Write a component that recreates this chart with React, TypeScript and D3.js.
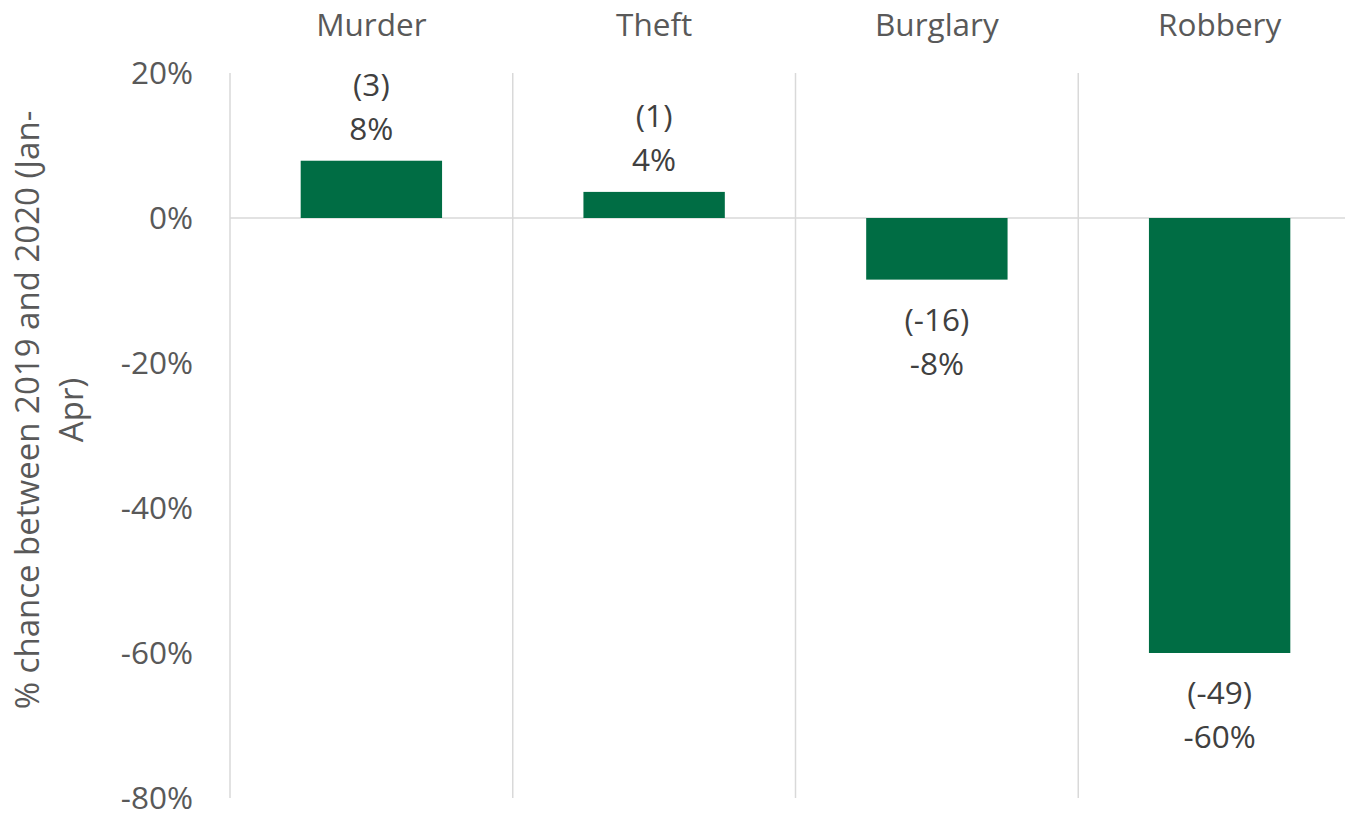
import React from "react";
import * as d3 from "d3";

const categories = ["Murder", "Theft", "Burglary", "Robbery"];
const pctChange = [7.9, 3.6, -8.5, -60];
const countLabels = ["(3)", "(1)", "(-16)", "(-49)"];
const pctLabels = ["8%", "4%", "-8%", "-60%"];
const yTicks = [20, 0, -20, -40, -60, -80];

const W = 1345;
const H = 813;
const margin = { left: 230, top: 73, bottom: 15 };
const plotRight = 1361;

export default function App() {
  const x = d3.scaleBand<string>().domain(categories).range([margin.left, plotRight]).paddingInner(0).paddingOuter(0);
  const y = d3.scaleLinear().domain([-80, 20]).range([H - margin.bottom, margin.top]);
  const bw = x.bandwidth() * 0.5;
  const font = "'Open Sans', sans-serif";
  const fs = 31.5;
  return (
    <svg width={W} height={H} style={{ position: "absolute", left: 0, top: 0, background: "#fff" }} fontFamily={font}>
      <rect x={0} y={0} width={W} height={H} fill="#fff" />
      {/* vertical gridlines */}
      {categories.map((c) => (
        <line key={c} x1={x(c)!} x2={x(c)!} y1={y(20)} y2={y(-80)} stroke="#d9d9d9" strokeWidth={1.5} />
      ))}
      <line x1={margin.left} x2={plotRight} y1={y(0)} y2={y(0)} stroke="#d9d9d9" strokeWidth={1.5} />
      {/* bars */}
      {categories.map((c, i) => {
        const v = pctChange[i];
        const cx = x(c)! + x.bandwidth() / 2;
        return (
          <rect key={c} x={cx - bw / 2} y={y(Math.max(0, v))} width={bw} height={Math.abs(y(v) - y(0))} fill="#006d44" />
        );
      })}
      {/* data labels */}
      {categories.map((c, i) => {
        const v = pctChange[i];
        const cx = x(c)! + x.bandwidth() / 2;
        const l1 = v >= 0 ? y(v) - 76 : y(v) + 40;
        return (
          <g key={c} fill="#404040" fontSize={fs} textAnchor="middle">
            <text x={cx} y={l1} dy="0.35em">{countLabels[i]}</text>
            <text x={cx} y={l1 + 44} dy="0.35em">{pctLabels[i]}</text>
          </g>
        );
      })}
      {/* category labels */}
      {categories.map((c) => (
        <text key={c} x={x(c)! + x.bandwidth() / 2} y={25} dy="0.35em" textAnchor="middle" fontSize={fs} fill="#595959">
          {c}
        </text>
      ))}
      {/* y ticks */}
      {yTicks.map((t) => (
        <text key={t} x={193} y={y(t)} dy="0.35em" textAnchor="end" fontSize={fs} fill="#595959">
          {`${t}%`}
        </text>
      ))}
      {/* y axis title */}
      <g transform={`translate(0, 410) rotate(-90)`} fill="#595959" fontSize={33} textAnchor="middle">
        <text x={0} y={27} dy="0.35em">% chance between 2019 and 2020 (Jan-</text>
        <text x={0} y={71} dy="0.35em">Apr)</text>
      </g>
    </svg>
  );
}
